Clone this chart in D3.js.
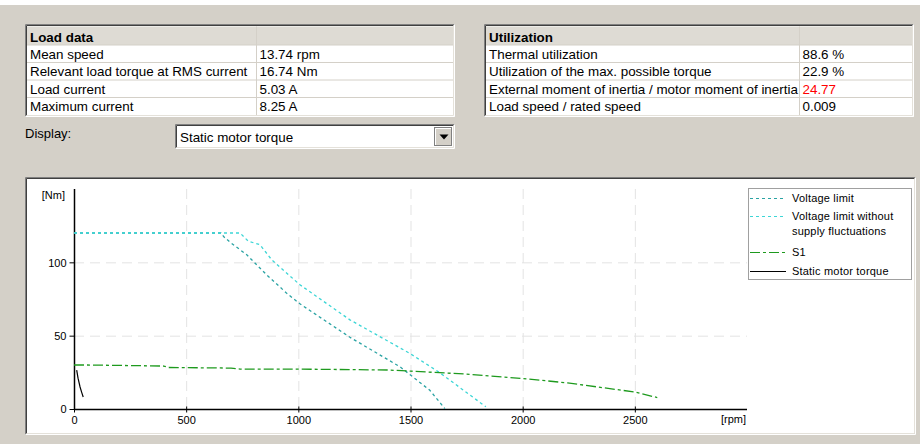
<!DOCTYPE html>
<html>
<head>
<meta charset="utf-8">
<script src="https://cdn.jsdelivr.net/npm/d3@7"></script>
<style>
  html, body { margin: 0; padding: 0; background: #d4d0c8; }
  svg { display: block; font-family: "Liberation Sans", Arial, sans-serif; }
</style>
</head>
<body>
<div id="chart"></div>
<script>
// Table contents
const loadTitle = 'Load data';
const loadLabels = ['Mean speed', 'Relevant load torque at RMS current', 'Load current', 'Maximum current'];
const loadValues = ['13.74 rpm', '16.74 Nm', '5.03 A', '8.25 A'];

const utilTitle = 'Utilization';
const utilLabels = ['Thermal utilization', 'Utilization of the max. possible torque',
  'External moment of inertia / motor moment of inertia', 'Load speed / rated speed'];
const utilValues = ['88.6 %', '22.9 %', '24.77', '0.009'];
const utilWarn = [false, false, true, false];

const displayChoice = 'Static motor torque';

// Axis ticks
const xTicks = [0, 500, 1000, 1500, 2000, 2500];
const yTicks = [0, 50, 100];

// Curves [rpm, Nm]
const voltageLimit = [[0, 120], [655, 120], [668, 117.4], [699, 113.3], [769, 105.3], [858, 91.6],
  [947, 79.1], [1007, 71.7], [1230, 48.9], [1453, 28.8], [1586, 12.8], [1653, 0.3]];
const voltageLimitNoFluct = [[0, 120], [740, 120], [777, 114.4], [829, 112], [881, 101.8],
  [1007, 84.7], [1230, 60.8], [1497, 37.9], [1631, 24.7], [1836, 1.5]];
const s1 = [[0, 30], [60, 30], [400, 29.3], [420, 28.3], [700, 27.9], [740, 27.2], [1000, 27.2],
  [1400, 26.6], [1500, 25.8], [1750, 23.8], [2000, 20.8], [2200, 17.8], [2500, 11.6], [2600, 7.8]];
const staticTorque = [[12, 26.5], [18, 21], [27, 15], [35, 11], [41, 8.2]];

const series = [
  { name: ['Voltage limit'], data: voltageLimit, color: '#2aa3a3', dash: '3,3' },
  { name: ['Voltage limit without', 'supply  fluctuations'], data: voltageLimitNoFluct, color: '#3dd6d6', dash: '3,3' },
  { name: ['S1'], data: s1, color: '#1e9a1e', dash: '10,3,3,3' },
  { name: ['Static motor torque'], data: staticTorque, color: '#000000', dash: null }
];

const W = 920, H = 444;
const svg = d3.select('#chart').append('svg').attr('width', W).attr('height', H);

svg.append('rect').attr('width', W).attr('height', H).attr('fill', '#d4d0c8');
svg.append('rect').attr('width', W).attr('height', 5).attr('fill', '#ffffff');

// sunken 3D border like a windows control
function sunken(x, y, w, h) {
  const g = svg.append('g');
  g.append('path').attr('d', `M${x},${y + h}V${y}H${x + w}`).attr('fill', 'none').attr('stroke', '#808080');
  g.append('path').attr('d', `M${x + 1},${y + h - 1}V${y + 1}H${x + w - 1}`).attr('fill', 'none').attr('stroke', '#404040');
  g.append('path').attr('d', `M${x},${y + h}H${x + w}V${y}`).attr('fill', 'none').attr('stroke', '#ffffff');
  g.append('path').attr('d', `M${x + 1},${y + h - 1}H${x + w - 1}V${y + 1}`).attr('fill', 'none').attr('stroke', '#e4e1da');
}

function drawTable(x0, x1, colX, title, labels, values, warn) {
  const top = 24.5, headH = 20.5, rowH = 17.5;
  const bottom = top + headH + rowH * labels.length + 1.5;
  svg.append('rect').attr('x', x0).attr('y', top).attr('width', x1 - x0).attr('height', bottom - top)
    .attr('fill', '#ffffff');
  svg.append('rect').attr('x', x0 + 2).attr('y', top + 2).attr('width', x1 - x0 - 4).attr('height', headH - 2)
    .attr('fill', '#dedbd4');
  const g = svg.append('g');
  // cell grid
  labels.forEach((d, i) => {
    const y = top + headH + rowH * i;
    g.append('line').attr('x1', x0 + 2).attr('x2', x1 - 1).attr('y1', y).attr('y2', y)
      .attr('stroke', '#d4d0c8');
  });
  g.append('line').attr('x1', colX).attr('x2', colX).attr('y1', top + 2).attr('y2', bottom - 1)
    .attr('stroke', '#d4d0c8');
  g.append('text').attr('x', x0 + 5).attr('y', top + 17).attr('font-size', 13.4).attr('font-weight', 'bold')
    .attr('fill', '#000').text(title);
  labels.forEach((d, i) => {
    const y = top + headH + rowH * i + 13.5;
    g.append('text').attr('x', x0 + 5).attr('y', y).attr('font-size', 13.4).attr('fill', '#000').text(d);
    g.append('text').attr('x', colX + 3).attr('y', y).attr('font-size', 13.4)
      .attr('fill', warn && warn[i] ? '#ff0000' : '#000').text(values[i]);
  });
  sunken(x0 + 0.5, top, x1 - x0 - 1, bottom - top);
}

drawTable(25, 455, 256.5, loadTitle, loadLabels, loadValues, null);
drawTable(484, 914, 799.5, utilTitle, utilLabels, utilValues, utilWarn);

// Display selector
svg.append('text').attr('x', 25).attr('y', 138).attr('font-size', 13).attr('fill', '#000').text('Display:');
svg.append('rect').attr('x', 176).attr('y', 125).attr('width', 278).attr('height', 23).attr('fill', '#ffffff');
sunken(175.5, 124.5, 279, 24);
svg.append('text').attr('x', 180).attr('y', 142).attr('font-size', 13.4).attr('fill', '#000').text(displayChoice);
svg.append('rect').attr('x', 434.5).attr('y', 127.5).attr('width', 17).attr('height', 18)
  .attr('fill', '#d4d0c8').attr('stroke', '#808080');
svg.append('path').attr('d', 'M435.5,145V128.5H451').attr('fill', 'none').attr('stroke', '#ffffff');
svg.append('path').attr('d', 'M439.5,134.5h9l-4.5,5z').attr('fill', '#000');

// Chart panel
svg.append('rect').attr('x', 26).attr('y', 179).attr('width', 888).attr('height', 254).attr('fill', '#ffffff');
sunken(25.5, 177.5, 890, 257);

const x = d3.scaleLinear().domain([0, 3000]).range([74, 747]);
const y = d3.scaleLinear().domain([0, 150]).range([409, 189]);

// grid
const grid = svg.append('g');
grid.selectAll('.vg').data(xTicks.filter(d => d > 0)).enter().append('line')
  .attr('x1', d => x(d) + 0.5).attr('x2', d => x(d) + 0.5).attr('y1', y(150)).attr('y2', y(0))
  .attr('stroke', '#e3e3e3').attr('stroke-dasharray', '10,6');
grid.selectAll('.hg').data(yTicks.filter(d => d > 0)).enter().append('line')
  .attr('x1', x(0)).attr('x2', x(3000)).attr('y1', d => y(d) + 0.5).attr('y2', d => y(d) + 0.5)
  .attr('stroke', '#e3e3e3').attr('stroke-dasharray', '10,6');

// axes
const yAxis = d3.axisLeft(y).tickValues(yTicks).tickSize(5).tickSizeOuter(0).tickPadding(3)
  .tickFormat(d3.format('d'));
const gy = svg.append('g').attr('transform', `translate(${x(0) + 0.5},0)`).call(yAxis);
gy.select('.domain').remove();
gy.selectAll('text').attr('font-size', 11).attr('font-family', '"Liberation Sans", Arial, sans-serif')
  .attr('fill', '#000').attr('dy', '0.36em').attr('y', 0);
svg.append('line').attr('x1', x(0) + 0.5).attr('x2', x(0) + 0.5).attr('y1', y(150)).attr('y2', y(0) + 1)
  .attr('stroke', '#000').attr('stroke-width', 1.5);

const xAxis = d3.axisBottom(x).tickValues(xTicks).tickSize(3).tickSizeOuter(0).tickPadding(4)
  .tickFormat(d3.format('d'));
const gx = svg.append('g').attr('transform', `translate(0,${y(0) + 0.5})`).call(xAxis);
gx.select('.domain').remove();
gx.selectAll('.tick line').attr('y1', -3).attr('y2', 3);
gx.selectAll('text').attr('font-size', 11).attr('font-family', '"Liberation Sans", Arial, sans-serif')
  .attr('fill', '#000');
svg.append('line').attr('x1', x(0)).attr('x2', x(3000)).attr('y1', y(0) + 0.5).attr('y2', y(0) + 0.5)
  .attr('stroke', '#000').attr('stroke-width', 1.5);

svg.append('text').attr('x', 65).attr('y', 199).attr('text-anchor', 'end').attr('font-size', 11)
  .attr('fill', '#000').text('[Nm]');
svg.append('text').attr('x', 746).attr('y', 423).attr('text-anchor', 'end').attr('font-size', 11)
  .attr('fill', '#000').text('[rpm]');

// curves
const line = d3.line().x(d => x(d[0])).y(d => y(d[1]));
svg.append('g').selectAll('path').data(series).enter().append('path')
  .attr('d', d => line(d.data))
  .attr('fill', 'none')
  .attr('stroke', d => d.color)
  .attr('stroke-width', d => d.dash ? 1.3 : 1.2)
  .attr('stroke-dasharray', d => d.dash);

// legend
const lg = svg.append('g');
lg.append('rect').attr('x', 748.5).attr('y', 188.5).attr('width', 163).attr('height', 91)
  .attr('fill', '#ffffff').attr('stroke', '#a0a0a0');
const rowsY = [198, 216, 252, 271];
series.forEach((s, i) => {
  const yy = rowsY[i];
  lg.append('line').attr('x1', 750).attr('x2', 786).attr('y1', yy + 0.5).attr('y2', yy + 0.5)
    .attr('stroke', s.color).attr('stroke-width', 1.2).attr('stroke-dasharray', s.dash);
  s.name.forEach((t, j) => {
    lg.append('text').attr('x', 792).attr('y', yy + 4 + j * 15).attr('font-size', 11)
      .attr('letter-spacing', '0.2px').attr('fill', '#000').text(t);
  });
});
</script>
</body>
</html>
